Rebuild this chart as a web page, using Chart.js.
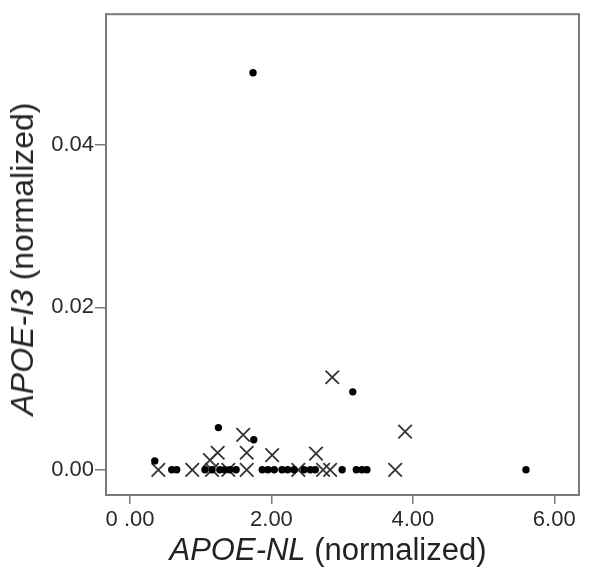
<!DOCTYPE html>
<html>
<head>
<meta charset="utf-8">
<script src="https://cdn.jsdelivr.net/npm/chart.js@4"></script>
<style>
  html, body { margin: 0; padding: 0; background: #fff; }
  #wrap { position: relative; width: 600px; height: 574px; }
  #chart { position: absolute; left: 0; top: 0; }
  .axis-title {
    position: absolute;
    font-family: "Liberation Sans", Arial, sans-serif;
    color: #222;
    white-space: nowrap;
    line-height: 1;
  }
  #xTitle { left: 328px; top: 534px; font-size: 31px; transform: translateX(-50%); }
  #yTitle { left: 22px; top: 259px; font-size: 32px; transform: translate(-50%, -50%) rotate(-90deg); }
</style>
</head>
<body>
<div id="wrap">
  <canvas id="chart" width="600" height="574"></canvas>
  <div class="axis-title" id="xTitle"><i>APOE-NL</i> (normalized)</div>
  <div class="axis-title" id="yTitle"><i>APOE-I3</i> (normalized)</div>
</div>
<script>
// dots (filled circles)
const dotX = [1.74, 3.15, 1.25, 1.75, 0.35, 5.60,
  0.59, 0.66, 1.06, 1.16, 1.27, 1.34, 1.41, 1.50, 1.87, 1.95, 2.04,
  2.15, 2.23, 2.32, 2.46, 2.55, 2.62, 3.00, 3.20, 3.28, 3.35];
const dotY = [0.0489, 0.0096, 0.0052, 0.0037, 0.0011, 0,
  0, 0, 0, 0, 0, 0, 0, 0, 0, 0, 0,
  0, 0, 0, 0, 0, 0, 0, 0, 0, 0];

// crosses
const crossX = [2.86, 3.89, 1.60, 1.24, 1.13, 1.65, 2.01, 2.63,
  0.40, 0.88, 1.16, 1.39, 1.65, 2.38, 2.73, 2.83, 3.75];
const crossY = [0.0114, 0.0047, 0.0043, 0.0021, 0.0012, 0.0021, 0.0018, 0.0020,
  0, 0, 0, 0, 0, 0, 0, 0, 0];

const xTicks = [0, 2, 4, 6];
const xTickLabels = ['0 .00', '2.00', '4.00', '6.00'];
const yTicks = [0, 0.02, 0.04];
const yTickLabels = ['0.00', '0.02', '0.04'];

const axisGray = '#7a7a7a';
const tickFont = { family: '"Liberation Sans", Arial, sans-serif', size: 22 };

// draws the full box around the plot
const frame = {
  id: 'frame',
  afterDraw(chart) {
    const { ctx, chartArea: a } = chart;
    ctx.save();
    ctx.strokeStyle = axisGray;
    ctx.lineWidth = 2;
    ctx.strokeRect(a.left, a.top, a.right - a.left, a.bottom - a.top);
    ctx.restore();
  }
};

new Chart(document.getElementById('chart').getContext('2d'), {
  type: 'scatter',
  data: {
    datasets: [
      {
        label: 'dots',
        data: dotX.map((x, i) => ({ x: x, y: dotY[i] })),
        pointStyle: 'circle',
        pointRadius: 3.7,
        backgroundColor: '#000',
        borderWidth: 0
      },
      {
        label: 'crosses',
        data: crossX.map((x, i) => ({ x: x, y: crossY[i] })),
        pointStyle: 'crossRot',
        pointRadius: 9.5,
        borderColor: '#333',
        borderWidth: 1.8
      }
    ]
  },
  options: {
    responsive: false,
    animation: false,
    layout: { padding: { top: 14, right: 21, left: 0, bottom: 0 } },
    plugins: { legend: { display: false }, tooltip: { enabled: false } },
    scales: {
      x: {
        type: 'linear',
        min: -0.34,
        max: 6.35,
        afterBuildTicks: axis => { axis.ticks = xTicks.map(v => ({ value: v })); },
        afterFit: axis => { axis.height = 79; },
        ticks: {
          callback: (v, i) => xTickLabels[i],
          font: tickFont,
          color: '#2a2a2a',
          padding: 3,
          maxRotation: 0
        },
        grid: { drawOnChartArea: false, drawTicks: true, tickLength: 9, color: axisGray, lineWidth: 1.5 },
        border: { display: true, color: axisGray, width: 2 }
      },
      y: {
        type: 'linear',
        min: -0.0031,
        max: 0.0561,
        afterBuildTicks: axis => { axis.ticks = yTicks.map(v => ({ value: v })); },
        afterFit: axis => { axis.width = 106; },
        ticks: {
          callback: (v, i) => yTickLabels[i],
          font: tickFont,
          color: '#2a2a2a',
          padding: 1
        },
        grid: { drawOnChartArea: false, drawTicks: true, tickLength: 11, color: axisGray, lineWidth: 1.5 },
        border: { display: true, color: axisGray, width: 2 }
      }
    }
  },
  plugins: [frame]
});
</script>
</body>
</html>
